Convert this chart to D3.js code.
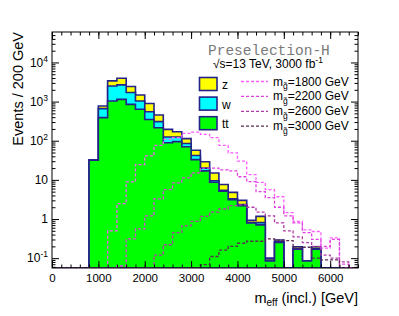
<!DOCTYPE html>
<html>
<head>
<meta charset="utf-8">
<script src="https://cdn.jsdelivr.net/npm/d3@7"></script>
<style>
  body { margin: 0; background: #fff; }
  svg { display: block; font-family: "Liberation Sans", Arial, sans-serif; }
</style>
</head>
<body>
<div id="chart"></div>
<script>
// bins are 200 GeV wide, first filled bin starts at 800 GeV
var binStart = 800;
var binWidth = 200;

// background stack (per-bin contents, not cumulative)
var ttVals = [32, 390, 1040, 1140, 850, 635, 350, 215, 89, 95, 70, 33, 17, 8.7, 5.1, 3.1, 2.2, 0.79, 0.71, 0.085, 0.25, 0, 0.17, 0.085, 0.17, 0, 0, 0, 0];
var wVals  = [0, 270, 1470, 1530, 850, 405, 200, 92, 35, 30, 15, 9, 3, 0.8, 0.3, 0.2, 0.15, 0.02, 0.1, 0.005, 0.01, 0, 0.005, 0, 0.005, 0, 0, 0, 0];
var zVals  = [0, 115, 870, 1290, 720, 440, 340, 148, 71, 45, 28, 15, 9, 5.5, 2.2, 1.5, 0.65, 0.11, 0.36, 0.01, 0.03, 0, 0.02, 0, 0.02, 0, 0, 0, 0];

// signal points
var sig1800 = [0, 0, 0.5, 2.47, 8.9, 24.6, 41, 76, 108, 119, 154, 166, 145, 120, 76, 49, 30, 13.6, 8.6, 5.6, 3.7, 1.45, 0.87, 0.53, 0.48, 0.18, 0.33, 0, 0];
var sig2200 = [0, 0, 0, 0.063, 0.31, 0.56, 1.2, 3.26, 5.6, 8.4, 11.2, 15.1, 20, 20, 18, 17, 12, 9, 5, 3.5, 2, 1.2, 0.8, 0.45, 0.3, 0.2, 0.3, 0.07, 0];
var sig2600 = [0, 0, 0, 0, 0, 0, 0, 0.12, 0.22, 0.45, 0.67, 0.87, 1.17, 1.5, 1.8, 2.2, 2.3, 2.0, 1.5, 1.2, 0.8, 0.5, 0.35, 0.25, 0.2, 0.12, 0.1, 0.08, 0];
var sig3000 = [0, 0, 0, 0, 0, 0, 0, 0, 0, 0, 0, 0, 0.068, 0.11, 0.16, 0.2, 0.24, 0.27, 0.27, 0.31, 0.29, 0.28, 0.18, 0.19, 0.10, 0.09, 0.09, 0, 0];

var sigNames = ['1800', '2200', '2600', '3000'];
var sigColors = ['#ff5cff', '#e040e0', '#b03ca8', '#5a2a50'];

var xTicksMajor = [0, 1000, 2000, 3000, 4000, 5000, 6000];
var yTicksMajor = [0.1, 1, 10, 100, 1000, 10000];

var width = 399, height = 316;
var padL = 52, padR = 358, padT = 32, padB = 268;

var svg = d3.select('#chart').append('svg')
    .attr('width', width)
    .attr('height', height);

var x = d3.scaleLinear().domain([0, 6600]).range([padL, padR]);
var y = d3.scaleLog().domain([0.056, 60000]).range([padB, padT]);
var yMin = y.domain()[0];

function yc(v) {
    return v > yMin ? y(v) : y(yMin);
}

// step path over the whole x range, empty bins sit on the bottom
function stepPath(vals) {
    var p = 'M' + x(0) + ',' + y(yMin);
    var nb = 6600 / binWidth;
    var off = binStart / binWidth;
    for (var i = 0; i < nb; i++) {
        var v = (i >= off && i - off < vals.length) ? vals[i - off] : 0;
        p += 'L' + x(i * binWidth) + ',' + yc(v) + 'L' + x((i + 1) * binWidth) + ',' + yc(v);
    }
    p += 'L' + x(6600) + ',' + y(yMin);
    return p;
}

var cumW = ttVals.map(function(d, i) { return d + wVals[i]; });
var cumZ = cumW.map(function(d, i) { return d + zVals[i]; });

svg.append('clipPath').attr('id', 'clip').append('rect')
    .attr('x', padL).attr('y', padT).attr('width', padR - padL).attr('height', padB - padT);
var inner = svg.append('g').attr('clip-path', 'url(#clip)');

var stack = [
    {vals: cumZ, fill: '#ffff00'},
    {vals: cumW, fill: '#00ffff'},
    {vals: ttVals, fill: '#00ff00'}
];
stack.forEach(function(s) {
    inner.append('path')
        .attr('d', stepPath(s.vals) + 'Z')
        .attr('fill', s.fill)
        .attr('stroke', '#23238a')
        .attr('stroke-width', 1.6);
});

[sig1800, sig2200, sig2600, sig3000].forEach(function(s, i) {
    inner.append('path')
        .attr('d', stepPath(s))
        .attr('fill', 'none')
        .attr('stroke', sigColors[i])
        .attr('stroke-width', 1.3)
        .attr('stroke-dasharray', '3,2');
});

// frame
svg.append('rect')
    .attr('x', padL).attr('y', padT)
    .attr('width', padR - padL).attr('height', padB - padT)
    .attr('fill', 'none').attr('stroke', '#000').attr('stroke-width', 1);

function noDomain(g) { g.select('.domain').remove(); }

// x axis ticks (inward), labels only at the bottom
var xMinor = d3.range(0, 6601, 200);
svg.append('g').attr('transform', 'translate(0,' + padB + ')')
    .call(d3.axisBottom(x).tickValues(xMinor).tickSize(-3.5).tickFormat(''))
    .call(noDomain);
svg.append('g').attr('class', 'xAxis').attr('transform', 'translate(0,' + padB + ')')
    .call(d3.axisBottom(x).tickValues(xTicksMajor).tickSize(-7).tickPadding(6).tickFormat(d3.format('d')))
    .call(noDomain);
svg.append('g').attr('transform', 'translate(0,' + padT + ')')
    .call(d3.axisTop(x).tickValues(xMinor).tickSize(-3.5).tickFormat(''))
    .call(noDomain);
svg.append('g').attr('transform', 'translate(0,' + padT + ')')
    .call(d3.axisTop(x).tickValues(xTicksMajor).tickSize(-7).tickFormat(''))
    .call(noDomain);

// y axis log ticks
var yMinor = [];
[-2, -1, 0, 1, 2, 3, 4].forEach(function(e) {
    for (var k = 2; k <= 9; k++) {
        var v = k * Math.pow(10, e);
        if (v > y.domain()[0] && v < y.domain()[1]) yMinor.push(v);
    }
});
svg.append('g').attr('transform', 'translate(' + padL + ',0)')
    .call(d3.axisLeft(y).tickValues(yMinor).tickSize(-3.5).tickFormat(''))
    .call(noDomain);
svg.append('g').attr('class', 'yAxis').attr('transform', 'translate(' + padL + ',0)')
    .call(d3.axisLeft(y).tickValues(yTicksMajor).tickSize(-7).tickPadding(4).tickFormat(''))
    .call(noDomain);
svg.append('g').attr('transform', 'translate(' + padR + ',0)')
    .call(d3.axisRight(y).tickValues(yMinor).tickSize(-3.5).tickFormat(''))
    .call(noDomain);
svg.append('g').attr('transform', 'translate(' + padR + ',0)')
    .call(d3.axisRight(y).tickValues(yTicksMajor).tickSize(-7).tickFormat(''))
    .call(noDomain);

svg.selectAll('.tick line').attr('stroke', '#000');

svg.selectAll('.xAxis text')
    .attr('font-size', 11.5)
    .attr('fill', '#000')
    .attr('font-family', null);

// y labels written as powers of ten
svg.selectAll('.yAxis .tick').each(function(d) {
    var t = d3.select(this).select('text')
        .attr('font-size', 12)
        .attr('fill', '#000')
        .attr('font-family', null);
    var e = Math.round(Math.log10(d));
    if (e === 0) t.text('1');
    else if (e === 1) t.text('10');
    else {
        t.text('10');
        t.append('tspan').attr('dy', -5).attr('font-size', 8.5).text(e);
    }
});
svg.selectAll('.xAxis, .yAxis').attr('font-family', null).attr('font-size', null);

// axis titles
var xt = svg.append('text')
    .attr('x', padR).attr('y', 303)
    .attr('text-anchor', 'end')
    .attr('font-size', 14.5);
xt.append('tspan').text('m');
xt.append('tspan').attr('dy', 3).attr('font-size', 10).text('eff');
xt.append('tspan').attr('dy', -3).text(' (incl.) [GeV]');

svg.append('text')
    .attr('transform', 'translate(23,' + padT + ') rotate(-90)')
    .attr('text-anchor', 'end')
    .attr('font-size', 14.5)
    .text('Events / 200 GeV');

// labels inside the frame
svg.append('text')
    .attr('x', 208).attr('y', 55)
    .style('font-family', '"Liberation Mono", "DejaVu Sans Mono", monospace')
    .attr('font-size', 14.5)
    .attr('fill', '#7a7a7a')
    .text('Preselection-H');

var lum = svg.append('text')
    .attr('x', 213).attr('y', 68)
    .attr('font-size', 12);
lum.append('tspan').text('\u221As=13 TeV, 3000 fb');
lum.append('tspan').attr('dy', -5).attr('font-size', 8.5).text('-1');

// background legend
var bgLegend = [
    {name: 'z', fill: '#ffff00'},
    {name: 'w', fill: '#00ffff'},
    {name: 'tt', fill: '#00ff00'}
];
bgLegend.forEach(function(d, i) {
    var cy = 84 + i * 19.6;
    svg.append('rect')
        .attr('x', 199.5).attr('y', cy - 6.5)
        .attr('width', 17.5).attr('height', 13)
        .attr('fill', d.fill)
        .attr('stroke', '#23238a').attr('stroke-width', 1.6);
    svg.append('text')
        .attr('x', 222).attr('y', cy + 5)
        .attr('font-size', 12)
        .text(d.name);
});

// signal legend
sigNames.forEach(function(d, i) {
    var cy = 81.5 + i * 14.9;
    svg.append('line')
        .attr('x1', 241).attr('x2', 268)
        .attr('y1', cy).attr('y2', cy)
        .attr('stroke', sigColors[i])
        .attr('stroke-width', 1.3)
        .attr('stroke-dasharray', '3,2');
    var t = svg.append('text')
        .attr('x', 273).attr('y', cy + 4)
        .attr('font-size', 12);
    t.append('tspan').text('m');
    t.append('tspan').attr('dy', 3.5).attr('font-size', 8.5).text('g\u0303');
    t.append('tspan').attr('dy', -3.5).text('=' + d + ' GeV');
});
</script>
</body>
</html>
